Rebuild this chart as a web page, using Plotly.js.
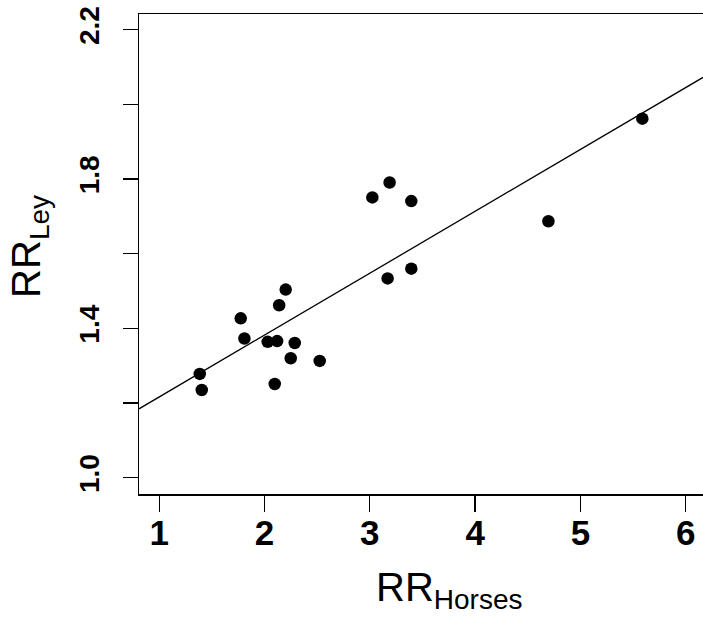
<!DOCTYPE html>
<html>
<head>
<meta charset="utf-8">
<script src="https://cdn.plot.ly/plotly-3.0.1.min.js"></script>
<style>html,body{margin:0;padding:0;background:#fff;}#chart{width:703px;height:623px;}</style>
</head>
<body>
<div id="chart"></div>
<script>
// Data
const rrHorses = [5.588, 4.696, 3.188, 3.024, 3.394, 3.394, 3.169, 2.201, 2.139, 1.774, 1.809, 2.030, 2.120, 2.287, 2.249, 2.524, 1.385, 1.404, 2.097];
const rrLey    = [1.962, 1.687, 1.791, 1.751, 1.741, 1.560, 1.534, 1.504, 1.462, 1.427, 1.373, 1.364, 1.366, 1.361, 1.320, 1.313, 1.278, 1.235, 1.251];
const fitIntercept = 1.0505;
const fitSlope = 0.1658;
const xTickVals = [1, 2, 3, 4, 5, 6];
const xTickText = ['1', '2', '3', '4', '5', '6'];
const yTickVals = [1.0, 1.4, 1.8, 2.2];
const yTickText = ['1.0', '1.4', '1.8', '2.2'];
const yMinorStep = 0.2;
const xRange = [0.808, 6.164];
const yRange = [0.9564, 2.2423];

const lineX = xRange.slice();
const lineY = lineX.map(v => fitIntercept + fitSlope * v);

const fontFam = 'Liberation Sans, Arial, sans-serif';

const traces = [
  {x: lineX, y: lineY, mode: 'lines', type: 'scatter',
   line: {color: '#000', width: 1.3}, hoverinfo: 'skip', showlegend: false},
  {x: rrHorses, y: rrLey, mode: 'markers', type: 'scatter',
   marker: {color: '#000', size: 12.5, symbol: 'circle'}, showlegend: false}
];

const layout = {
  width: 703, height: 623,
  margin: {l: 138.5, r: 0, t: 13.5, b: 129},
  paper_bgcolor: '#fff', plot_bgcolor: '#fff',
  showlegend: false,
  xaxis: {
    range: xRange, tickmode: 'array', tickvals: xTickVals, ticktext: xTickText,
    showgrid: false, zeroline: false, showline: true, linecolor: '#000', linewidth: 1.5,
    mirror: true, ticks: 'outside', ticklen: 16, tickwidth: 1.3, tickcolor: '#000',
    tickfont: {family: fontFam, size: 35, color: '#000', weight: 'bold'},
    ticklabelstandoff: -9
  },
  yaxis: {
    range: yRange, tickmode: 'array', tickvals: yTickVals, ticktext: yTickText,
    minor: {tick0: 1.0, dtick: yMinorStep, ticks: 'outside', ticklen: 15, tickwidth: 1.3, tickcolor: '#000', showgrid: false},
    showgrid: false, zeroline: false, showline: true, linecolor: '#000', linewidth: 1.5,
    ticks: 'outside', ticklen: 15, tickwidth: 1.3, tickcolor: '#000', tickangle: -90,
    tickfont: {family: fontFam, size: 28, color: '#000', weight: 'bold'},
    ticklabelstandoff: 12
  },
  annotations: [
    {text: 'RR<sub>Horses</sub>', xref: 'paper', yref: 'paper', x: 0.55, y: -0.2,
     xanchor: 'center', yanchor: 'middle', showarrow: false,
     font: {family: fontFam, size: 40, color: '#000'}},
    {text: 'RR<sub>Ley</sub>', xref: 'paper', yref: 'paper', x: -0.194, y: 0.516,
     xanchor: 'center', yanchor: 'middle', showarrow: false, textangle: -90,
     font: {family: fontFam, size: 40, color: '#000'}}
  ]
};

Plotly.newPlot('chart', traces, layout, {displayModeBar: false, staticPlot: true});
</script>
</body>
</html>
